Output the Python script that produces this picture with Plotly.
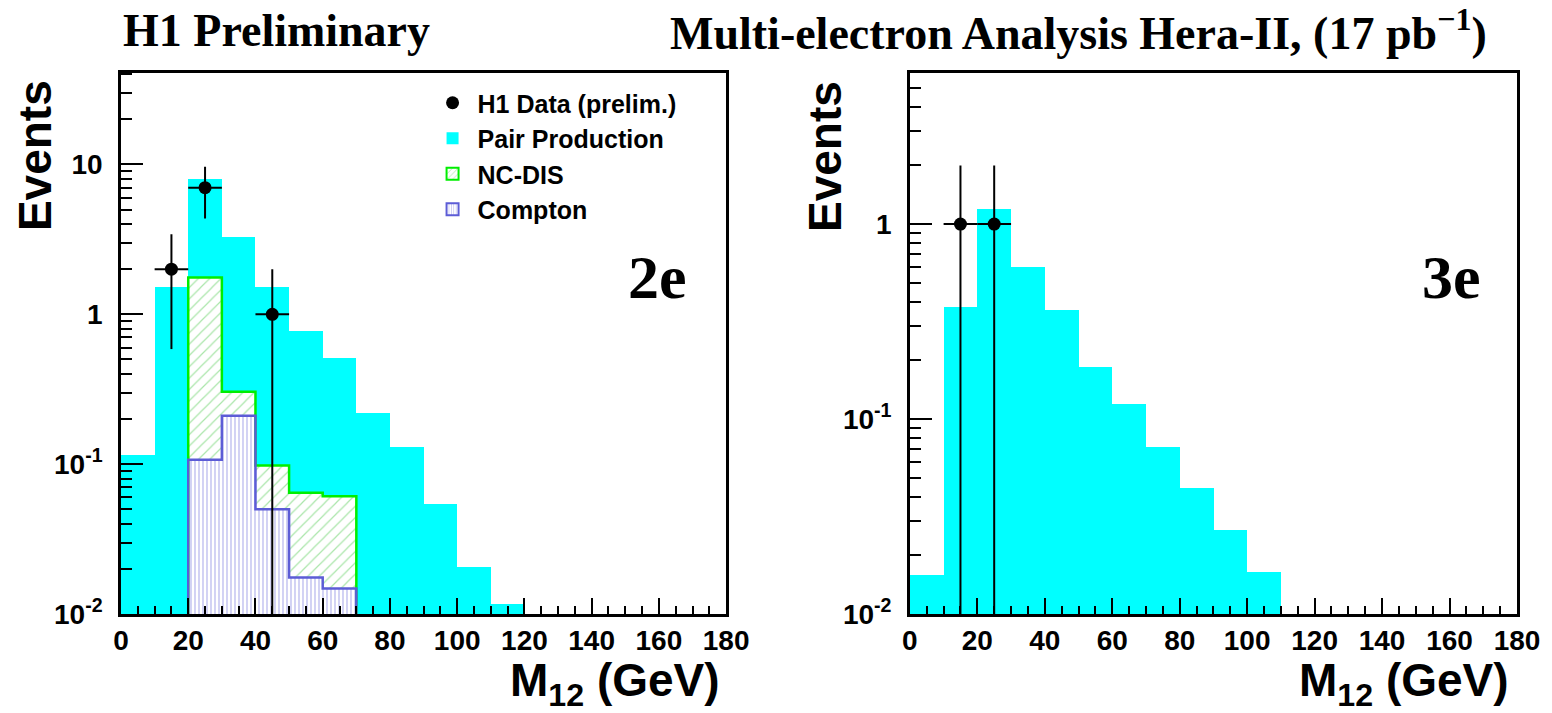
import numpy as np
import plotly.graph_objects as go

# ---- binning: 10 GeV wide bins starting at 0 ----
BIN_W = 10.0

# 2e channel
pair_2e = [0.115, 1.52, 8.0, 3.3, 1.52, 0.77, 0.51, 0.218, 0.13, 0.054, 0.0205, 0.0117]
ncdis_2e_start = 20.0
ncdis_2e = [1.76, 0.304, 0.098, 0.0645, 0.061]      # NC-DIS + Compton (stacked)
compton_2e_start = 20.0
compton_2e = [0.107, 0.21, 0.05, 0.0175, 0.0148]
data_2e_x = [15, 25, 45]
data_2e_y = [2, 7, 1]

# 3e channel
pair_3e = [0.0158, 0.377, 1.19, 0.60, 0.361, 0.184, 0.119, 0.072, 0.0444, 0.0271, 0.0165]
data_3e_x = [15, 25]
data_3e_y = [1, 1]

x_ticks = list(range(0, 181, 20))
y_major = [0.01, 0.1, 1, 10]
y_major_text = ["10<sup>-2</sup>", "10<sup>-1</sup>", "1", "10"]

Y_LOW = -2.0
YRANGE_2E = [Y_LOW, 1.61]
YRANGE_3E = [Y_LOW, 0.775]

CYAN = "#00ffff"
GREEN = "#00ee00"
GREEN_HATCH = "#55cc55"
BLUE = "#5c5cd6"
BLUE_HATCH = "#7f7fe0"

SANS = "Liberation Sans"
SERIF = "Liberation Serif"


def centers(start, n):
    return [start + BIN_W * (i + 0.5) for i in range(n)]


def step_outline(start, values, floor):
    xs, ys = [start], [floor]
    for i, v in enumerate(values):
        x0 = start + i * BIN_W
        xs += [x0, x0 + BIN_W]
        ys += [v, v]
    xs.append(start + len(values) * BIN_W)
    ys.append(floor)
    return xs, ys


def minor_ticks(lo_exp, hi_exp):
    vals = []
    for e in range(int(np.floor(lo_exp)), int(np.ceil(hi_exp)) + 1):
        for m in range(2, 10):
            v = m * 10.0 ** e
            if 10 ** lo_exp < v < 10 ** hi_exp:
                vals.append(v)
    return vals


fig = go.Figure()

# ---- histograms (bars) ----
fig.add_trace(go.Bar(x=centers(0, len(pair_2e)), y=pair_2e, width=BIN_W,
                     marker=dict(color=CYAN, line=dict(width=0)),
                     name="Pair Production", showlegend=False,
                     xaxis="x", yaxis="y"))
fig.add_trace(go.Bar(x=centers(ncdis_2e_start, len(ncdis_2e)), y=ncdis_2e, width=BIN_W,
                     marker=dict(color="white", line=dict(width=0),
                                 pattern=dict(shape="/", fgcolor=GREEN_HATCH, bgcolor="white",
                                              size=8, solidity=0.15)),
                     name="NC-DIS", showlegend=False, xaxis="x", yaxis="y"))
fig.add_trace(go.Bar(x=centers(compton_2e_start, len(compton_2e)), y=compton_2e, width=BIN_W,
                     marker=dict(color="white", line=dict(width=0),
                                 pattern=dict(shape="|", fgcolor=BLUE_HATCH, bgcolor="white",
                                              size=4, solidity=0.35)),
                     name="Compton", showlegend=False, xaxis="x", yaxis="y"))
fig.add_trace(go.Bar(x=centers(0, len(pair_3e)), y=pair_3e, width=BIN_W,
                     marker=dict(color=CYAN, line=dict(width=0)),
                     name="Pair Production", showlegend=False,
                     xaxis="x2", yaxis="y2"))

# legend entries
fig.add_trace(go.Bar(x=[None], y=[None], name="Pair Production", legendrank=2,
                     marker=dict(color=CYAN, line=dict(width=0)), xaxis="x", yaxis="y"))
fig.add_trace(go.Bar(x=[None], y=[None], name="NC-DIS", legendrank=3,
                     marker=dict(color="white", line=dict(color=GREEN, width=2),
                                 pattern=dict(shape="/", fgcolor=GREEN_HATCH, bgcolor="white",
                                              size=5, solidity=0.2)),
                     xaxis="x", yaxis="y"))
fig.add_trace(go.Bar(x=[None], y=[None], name="Compton", legendrank=4,
                     marker=dict(color="white", line=dict(color=BLUE, width=2),
                                 pattern=dict(shape="|", fgcolor=BLUE_HATCH, bgcolor="white",
                                              size=3, solidity=0.3)),
                     xaxis="x", yaxis="y"))

# ---- step outlines ----
floor = 10 ** Y_LOW
sx, sy = step_outline(ncdis_2e_start, ncdis_2e, floor)
fig.add_trace(go.Scatter(x=sx, y=sy, mode="lines", line=dict(color=GREEN, width=2.5),
                         showlegend=False, hoverinfo="skip", xaxis="x", yaxis="y"))
sx, sy = step_outline(compton_2e_start, compton_2e, floor)
fig.add_trace(go.Scatter(x=sx, y=sy, mode="lines", line=dict(color=BLUE, width=2.5),
                         showlegend=False, hoverinfo="skip", xaxis="x", yaxis="y"))


# ---- data points with sqrt(N) errors ----
def data_trace(xv, yv, xa, ya, show):
    return go.Scatter(
        x=xv, y=yv, mode="markers", name="H1 Data (prelim.)", legendrank=1,
        showlegend=show,
        marker=dict(color="black", size=13, symbol="circle"),
        error_y=dict(type="data", array=[float(np.sqrt(v)) for v in yv],
                     color="black", thickness=2, width=0),
        error_x=dict(type="constant", value=BIN_W / 2, color="black", thickness=2, width=0),
        xaxis=xa, yaxis=ya)


fig.add_trace(data_trace(data_2e_x, data_2e_y, "x", "y", True))
fig.add_trace(data_trace(data_3e_x, data_3e_y, "x2", "y2", False))

# ---- axes ----
tickfont = dict(family=SANS, size=28, color="black", weight="bold")
xaxis_common = dict(range=[0, 180], tickvals=x_ticks, ticks="inside", ticklen=16,
                    tickwidth=2, tickcolor="black", showline=True, linewidth=2.5,
                    linecolor="black", mirror=True, showgrid=False, zeroline=False,
                    tickfont=tickfont,
                    minor=dict(dtick=5, tick0=0, ticks="inside", ticklen=8, tickwidth=2,
                               tickcolor="black", showgrid=False))


def yaxis_common(rng):
    return dict(type="log", range=rng, tickvals=y_major, ticktext=y_major_text,
                ticks="inside", ticklen=22, tickwidth=2, tickcolor="black",
                showline=True, linewidth=2.5, linecolor="black", mirror=True,
                showgrid=False, zeroline=False, tickfont=tickfont, ticklabelstandoff=10,
                minor=dict(tickvals=minor_ticks(rng[0], rng[1]), ticks="inside",
                           ticklen=11, tickwidth=2, tickcolor="black", showgrid=False))


W, H = 1552, 713
ML, MR, MT, MB = 121, 33, 73, 99
PW = W - ML - MR
PH = H - MT - MB
left_dom = [0, (727 - ML) / PW]
right_dom = [(911 - ML) / PW, 1]


def px_x(p):
    return (p - ML) / PW


def px_y(p):
    return (H - MB - p) / PH


fig.update_layout(
    width=W, height=H,
    margin=dict(l=ML, r=MR, t=MT, b=MB),
    paper_bgcolor="white", plot_bgcolor="white",
    barmode="overlay", bargap=0,
    xaxis=dict(domain=left_dom, anchor="y", **xaxis_common),
    yaxis=dict(domain=[0, 1], anchor="x", **yaxis_common(YRANGE_2E)),
    xaxis2=dict(domain=right_dom, anchor="y2", **xaxis_common),
    yaxis2=dict(domain=[0, 1], anchor="x2", **yaxis_common(YRANGE_3E)),
    legend=dict(x=px_x(428), y=px_y(80), xanchor="left", yanchor="top",
                bgcolor="rgba(0,0,0,0)",
                font=dict(family=SANS, size=25, color="black", weight="bold"),
                itemwidth=40, traceorder="normal", tracegroupgap=0),
    font=dict(family=SANS, color="black"),
)

title_font = dict(family=SERIF, size=46, color="black", weight="bold")
annotations = [
    dict(text="H1 Preliminary", x=px_x(121), y=px_y(30), xanchor="left", yanchor="middle",
         font=title_font),
    dict(text="Multi-electron Analysis Hera-II, (17 pb<sup>\u22121</sup>)", x=px_x(1491),
         y=px_y(30), xanchor="right", yanchor="middle", font=title_font),
    dict(text="2e", x=px_x(658), y=px_y(277), xanchor="center", yanchor="middle",
         font=dict(family=SERIF, size=62, color="black", weight="bold")),
    dict(text="3e", x=px_x(1453), y=px_y(277), xanchor="center", yanchor="middle",
         font=dict(family=SERIF, size=62, color="black", weight="bold")),
    dict(text="Events", x=px_x(35), y=px_y(156), textangle=-90, xanchor="center",
         yanchor="middle", font=dict(family=SANS, size=46, color="black", weight="bold")),
    dict(text="Events", x=px_x(826), y=px_y(156), textangle=-90, xanchor="center",
         yanchor="middle", font=dict(family=SANS, size=46, color="black", weight="bold")),
    dict(text="M<sub>12</sub> (GeV)", x=px_x(723), y=px_y(683), xanchor="right",
         yanchor="middle", font=dict(family=SANS, size=46, color="black", weight="bold")),
    dict(text="M<sub>12</sub> (GeV)", x=px_x(1513), y=px_y(683), xanchor="right",
         yanchor="middle", font=dict(family=SANS, size=46, color="black", weight="bold")),
]
for a in annotations:
    a.update(xref="paper", yref="paper", showarrow=False)
fig.update_layout(annotations=annotations)

fig.write_html("out.html")
